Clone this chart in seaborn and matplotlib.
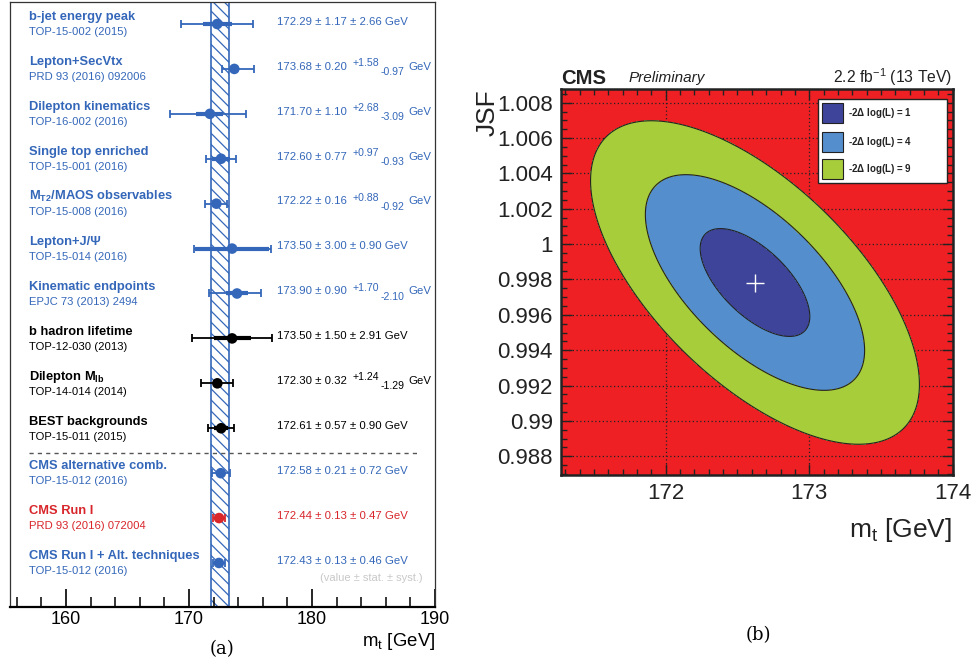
import numpy as np
import pandas as pd
import matplotlib
matplotlib.use("Agg")
import matplotlib.pyplot as plt
from matplotlib.ticker import MultipleLocator
from matplotlib.patches import Rectangle
import seaborn as sns

plt.rcParams['font.family'] = ['Liberation Sans', 'DejaVu Sans']
plt.rcParams['mathtext.fontset'] = 'custom'
plt.rcParams['mathtext.rm'] = 'Liberation Sans'
plt.rcParams['mathtext.it'] = 'Liberation Sans:italic'
plt.rcParams['mathtext.bf'] = 'Liberation Sans:bold'
plt.rcParams['hatch.linewidth'] = 0.9

# ---------------- data: panel (a) ----------------
names = ["b-jet energy peak", "Lepton+SecVtx", "Dilepton kinematics",
         "Single top enriched", r"M$_{\mathbf{T2}}$/MAOS observables",
         "Lepton+J/Ψ", "Kinematic endpoints", "b hadron lifetime",
         r"Dilepton M$_{\mathbf{lb}}$", "BEST backgrounds",
         "CMS alternative comb.", "CMS Run I", "CMS Run I + Alt. techniques"]
refs = ["TOP-15-002 (2015)", "PRD 93 (2016) 092006", "TOP-16-002 (2016)",
        "TOP-15-001 (2016)", "TOP-15-008 (2016)", "TOP-15-014 (2016)",
        "EPJC 73 (2013) 2494", "TOP-12-030 (2013)", "TOP-14-014 (2014)",
        "TOP-15-011 (2015)", "TOP-15-012 (2016)", "PRD 93 (2016) 072004",
        "TOP-15-012 (2016)"]
mt = [172.29, 173.68, 171.70, 172.60, 172.22, 173.50, 173.90,
      173.50, 172.30, 172.61, 172.58, 172.44, 172.43]
stat = [1.17, 0.20, 1.10, 0.77, 0.16, 3.00, 0.90, 1.50, 0.32, 0.57, 0.21, 0.13, 0.13]
syst_up = [2.66, 1.58, 2.68, 0.97, 0.88, 0.90, 1.70, 2.91, 1.24, 0.90, 0.72, 0.47, 0.46]
syst_dn = [2.66, 0.97, 3.09, 0.93, 0.92, 0.90, 2.10, 2.91, 1.29, 0.90, 0.72, 0.47, 0.46]
groups = ["alt"] * 7 + ["old"] * 3 + ["alt", "run1", "alt"]
band = [171.76, 173.28]
x_ticks_a = [160, 170, 180, 190]

# ---------------- data: panel (b) ----------------
fit_center = [172.622, 0.99783]
fit_sigma = [0.382, 0.00305]
fit_rho = -0.63
nll_levels = [1, 4, 9]
nll_labels = [r"-2$\mathbf{\Delta}$ log(L) = 1", r"-2$\mathbf{\Delta}$ log(L) = 4",
              r"-2$\mathbf{\Delta}$ log(L) = 9"]

BLUE = "#3467b9"
RED = "#d8262b"
palette = {"alt": BLUE, "old": "black", "run1": RED}
C_BG = "#ee2024"
C_L1 = "#3f449b"
C_L2 = "#558ecd"
C_L3 = "#a8cd3b"

fig = plt.figure(figsize=(9.71, 6.64), dpi=100)

# ================= panel (a) =================
axa = fig.add_axes([10 / 971, 57 / 664, 425 / 971, 605 / 664])
rows = np.arange(len(mt))
df = pd.DataFrame({"mt": mt, "row": rows, "group": groups})

axa.axvspan(band[0], band[1], facecolor="white", edgecolor=BLUE,
            hatch="\\\\\\", linewidth=1.2, zorder=1)

for i in rows:
    c = palette[groups[i]]
    tot_up = np.hypot(stat[i], syst_up[i])
    tot_dn = np.hypot(stat[i], syst_dn[i])
    axa.errorbar([mt[i]], [i], xerr=[[tot_dn], [tot_up]], fmt="none",
                 ecolor=c, elinewidth=1.3, capsize=3.2, capthick=1.3, zorder=3)
    axa.errorbar([mt[i]], [i], xerr=[[stat[i]], [stat[i]]], fmt="none",
                 ecolor=c, elinewidth=3.0, capsize=0, zorder=4)

sns.scatterplot(data=df, x="mt", y="row", hue="group", palette=palette,
                s=58, edgecolor="none", legend=False, zorder=5, ax=axa)

for i in rows:
    c = palette[groups[i]]
    axa.text(156.96, i - 0.15, names[i], color=c, fontsize=9.3,
             fontweight="bold", va="center", ha="left")
    axa.text(156.96, i + 0.185, refs[i], color=c, fontsize=8.1,
             va="center", ha="left")
    if syst_up[i] == syst_dn[i]:
        axa.text(177.17, i - 0.05, f"{mt[i]:.2f} ± {stat[i]:.2f} ± {syst_up[i]:.2f} GeV",
                 color=c, fontsize=8.2, va="center", ha="left")
    else:
        axa.text(177.17, i - 0.05, f"{mt[i]:.2f} ± {stat[i]:.2f}",
                 color=c, fontsize=8.2, va="center", ha="left")
        axa.text(183.3, i - 0.13, f"+{syst_up[i]:.2f}",
                 color=c, fontsize=7.6, va="center", ha="left")
        axa.text(185.6, i + 0.07, f"-{syst_dn[i]:.2f}",
                 color=c, fontsize=7.6, va="center", ha="left")
        axa.text(187.8, i - 0.05, "GeV",
                 color=c, fontsize=8.2, va="center", ha="left")

axa.plot([157.0, 188.5], [9.55, 9.55], color="#555555", lw=1.0,
         linestyle=(0, (3, 3)), zorder=2)
axa.text(188.98, 12.33, "(value ± stat. ± syst.)", color="#c8c8c8",
         fontsize=8.0, ha="right", va="center")

axa.set_xlim(155.44, 190.0)
axa.set_ylim(12.98, -0.49)
axa.set_xticks(x_ticks_a)
axa.xaxis.set_minor_locator(MultipleLocator(2))
axa.set_yticks([])
axa.tick_params(axis="x", which="major", direction="in", length=13, width=1.2,
                labelsize=13, pad=3)
axa.tick_params(axis="x", which="minor", direction="in", length=7, width=1.1)
axa.set_xlabel("")
axa.set_ylabel("")
for s in ["left", "top", "right"]:
    axa.spines[s].set_linewidth(0.9)
    axa.spines[s].set_color("#333333")
axa.spines["bottom"].set_linewidth(1.6)
fig.text(435 / 971, 1 - 641 / 664, r"m$_\mathrm{t}$ [GeV]", fontsize=13.4,
         ha="right", va="center")
fig.text(222 / 971, 1 - 649 / 664, "(a)", fontsize=13, family="DejaVu Serif",
         ha="center", va="center")

# ================= panel (b) =================
axb = fig.add_axes([561 / 971, 189 / 664, 391.7 / 971, 385.7 / 664])
axb.set_facecolor(C_BG)
xg = np.linspace(171.27, 174.0, 600)
yg = np.linspace(0.98694, 1.00876, 600)
X, Y = np.meshgrid(xg, yg)
u = (X - fit_center[0]) / fit_sigma[0]
v = (Y - fit_center[1]) / fit_sigma[1]
chi2 = (u ** 2 - 2 * fit_rho * u * v + v ** 2) / (1 - fit_rho ** 2)
axb.contourf(X, Y, chi2, levels=[0] + nll_levels, colors=[C_L1, C_L2, C_L3], zorder=2)
axb.contour(X, Y, chi2, levels=nll_levels, colors="#222222", linewidths=0.8, zorder=3)
sns.scatterplot(x=[fit_center[0]], y=[fit_center[1]], marker="+", color="white",
                s=160, linewidth=1.0, zorder=4, ax=axb)

axb.set_xlim(171.27, 174.0)
axb.set_ylim(0.98694, 1.00876)
axb.set_xticks([172, 173, 174])
axb.set_xticklabels(["172", "173", "174"])
yt = [0.988, 0.99, 0.992, 0.994, 0.996, 0.998, 1.0, 1.002, 1.004, 1.006, 1.008]
axb.set_yticks(yt)
axb.set_yticklabels(["0.988", "0.99", "0.992", "0.994", "0.996", "0.998", "1",
                     "1.002", "1.004", "1.006", "1.008"])
axb.xaxis.set_minor_locator(MultipleLocator(0.1))
axb.yaxis.set_minor_locator(MultipleLocator(0.0005))
axb.set_axisbelow(True)
axb.grid(True, which="major", color="#222222", linestyle=(0, (1, 2)), linewidth=0.9, zorder=1)
axb.tick_params(which="both", direction="in", top=True, right=True, colors="#222222")
axb.tick_params(which="major", length=8, width=1.0, labelsize=16, labelcolor="#222222", pad=6)
axb.tick_params(which="minor", length=4, width=1.0)
for s in axb.spines.values():
    s.set_linewidth(1.8)
    s.set_color("#222222")
axb.set_xlabel("")
axb.set_ylabel("")

# legend box (ROOT style)
axb.add_patch(Rectangle((0.656, 0.756), 0.329, 0.218, transform=axb.transAxes,
                        facecolor="white", edgecolor="#222222", linewidth=1.0,
                        zorder=10))
leg_y = [0.9378, 0.8642, 0.7934]
for yy, c, lab in zip(leg_y, [C_L1, C_L2, C_L3], nll_labels):
    axb.add_patch(Rectangle((0.6663, yy - 0.026), 0.0536, 0.052, transform=axb.transAxes,
                            facecolor=c, edgecolor="#222222", linewidth=0.8, zorder=11))
    axb.text(0.7327, yy, lab, transform=axb.transAxes, fontsize=7.0, fontweight="bold",
             ha="left", va="center", color="#222222", zorder=12)

fig.text(561 / 971, 1 - 78 / 664, "CMS", fontsize=14.6, fontweight="bold",
         ha="left", va="center", color="#222222")
fig.text(629 / 971, 1 - 78 / 664, "Preliminary", fontsize=11, style="italic",
         ha="left", va="center", color="#222222")
fig.text(952 / 971, 1 - 77 / 664, r"2.2 fb$^{\mathrm{-1}}$ (13 TeV)", fontsize=11.3,
         ha="right", va="center", color="#222222")
fig.text(488 / 971, 1 - 89 / 664, "JSF", fontsize=19, rotation=90,
         ha="center", va="top", color="#222222")
fig.text(952 / 971, 1 - 530 / 664, r"m$_\mathrm{t}$ [GeV]", fontsize=19,
         ha="right", va="center", color="#222222")
fig.text(758 / 971, 1 - 635 / 664, "(b)", fontsize=13, family="DejaVu Serif",
         ha="center", va="center")

fig.savefig("out.png", dpi=100)
